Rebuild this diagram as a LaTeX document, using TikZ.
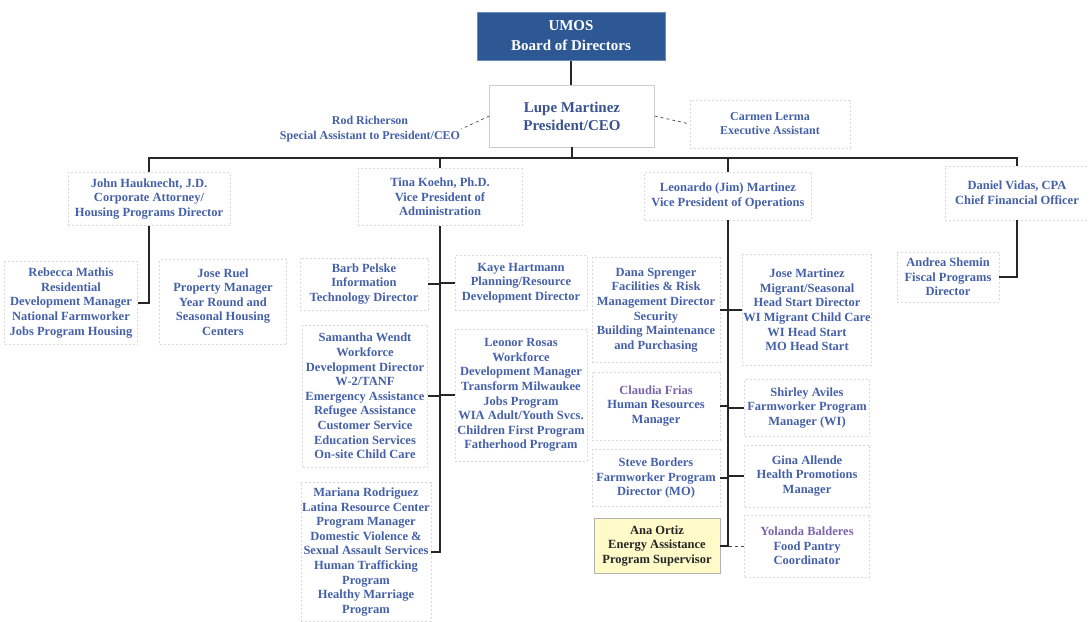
\documentclass[tikz,border=0pt]{standalone}
\usepackage{fontspec}
\setmainfont{Liberation Serif}
\usepackage{xcolor}
\usepackage{tikz}
\usetikzlibrary{positioning,calc}

\definecolor{umosblue}{RGB}{68,96,168}
\definecolor{boardblue}{RGB}{46,88,148}
\definecolor{boardedge}{RGB}{110,140,190}
\definecolor{hrpurple}{RGB}{122,100,170}
\definecolor{anayellow}{RGB}{255,250,200}

\newcommand{\staffsize}{\fontsize{12.5}{14.6}\selectfont\bfseries}

\begin{document}
\begin{tikzpicture}[x=1pt, y=-1pt,
	staff/.style={draw=black!15, dash pattern=on 2pt off 2pt, align=center, text=umosblue, font=\staffsize, inner sep=1pt},
	boxsize/.style 2 args={minimum width=#1pt, minimum height=#2pt},
	link/.style={draw=black!85, line width=1.2pt},
	aide/.style={draw=black!70, line width=0.7pt, dashed}]
		
		\useasboundingbox (0,0) rectangle (1089,621);
		
		\node[boxsize={188}{48}, fill=boardblue, draw=boardedge, line width=1pt, text=white, align=center, font=\fontsize{15}{20}\selectfont\bfseries] (board) at (571,36) {UMOS\\Board of Directors};
		
		\node[staff, solid, draw=black!20, boxsize={165}{62}, font=\fontsize{15}{18}\selectfont\bfseries, text=umosblue!85!black] (lupe) at (572,116) {Lupe Martinez\\President/CEO};
		\node[staff, draw=none, font=\fontsize{12}{15}\selectfont\bfseries] (rod) at (370,129) {Rod Richerson\\Special Assistant to President/CEO};
		\node[staff, boxsize={160}{48}, font=\fontsize{12}{14}\selectfont\bfseries] (carmen) at (770,124) {Carmen Lerma\\Executive Assistant};
		
		\draw[link] (board.south) -- (board.south |- lupe.north);
		\draw[aide] (lupe.west) -- (rod.east);
		\draw[aide] (lupe.east) -- (carmen.west);
		
		
		\node[staff, boxsize={162}{53}] (john) at (149,199) {John Hauknecht, J.D.\\Corporate Attorney/\\Housing Programs Director};
		\node[staff, boxsize={164}{57}] (tina) at (440,197) {Tina Koehn, Ph.D.\\Vice President of\\Administration};
		\node[staff, boxsize={167}{48}] (leo) at (728,196) {Leonardo (Jim) Martinez\\Vice President of Operations};
		\node[staff, boxsize={144}{54}] (daniel) at (1017,193) {Daniel Vidas, CPA\\Chief Financial Officer};
		
		\coordinate (bar) at (572,158);
		\draw[link] (lupe.south) -- (bar);
		\draw[link] (john.north) |- (bar) -| (daniel.north);
		\draw[link] (tina.north) -- (tina.north |- bar);
		\draw[link] (leo.north) -- (leo.north |- bar);
		
		
		\node[staff, boxsize={133}{83}] (rebecca) at (71,303) {Rebecca Mathis\\Residential\\Development Manager\\National Farmworker\\Jobs Program Housing};
		\node[staff, boxsize={127}{85}] (joseruel) at (223,302) {Jose Ruel\\Property Manager\\Year Round and\\Seasonal Housing\\Centers};
		
		\draw[link] (john.south) -- (john.south |- rebecca.east) -- (rebecca.east);
		
		
		\node[staff, boxsize={128}{52}] (barb) at (364,284) {Barb Pelske\\Information\\Technology Director};
		\node[staff, boxsize={132}{55}] (kaye) at (521,283) {Kaye Hartmann\\Planning/Resource\\Development Director};
		\node[staff, boxsize={125}{142}] (samantha) at (365,396) {Samantha Wendt\\Workforce\\Development Director\\W-2/TANF\\Emergency Assistance\\Refugee Assistance\\Customer Service\\Education Services\\On-site Child Care};
		\node[staff, boxsize={132}{132}] (leonor) at (521,395) {Leonor Rosas\\Workforce\\Development Manager\\Transform Milwaukee\\Jobs Program\\WIA Adult/Youth Svcs.\\Children First Program\\Fatherhood Program};
		\node[staff, boxsize={127}{139}] (mariana) at (366,552) {Mariana Rodriguez\\Latina Resource Center\\Program Manager\\Domestic Violence \&\\Sexual Assault Services\\Human Trafficking\\Program\\Healthy Marriage\\Program};
		
		\draw[link] (tina.south) -- (tina.south |- mariana.east) -- (mariana.east);
		\draw[link] (barb.east) -- (barb.east -| tina.south);
		\draw[link] (kaye.west) -- (kaye.west -| tina.south);
		\draw[link] (samantha.east) -- (samantha.east -| tina.south);
		\draw[link] (leonor.west) -- (leonor.west -| tina.south);
		
		
		\node[staff, boxsize={128}{105}] (dana) at (656,310) {Dana Sprenger\\Facilities \& Risk\\Management Director\\Security\\Building Maintenance\\and Purchasing};
		\node[staff, boxsize={125}{111}] (josem) at (807,310) {Jose Martinez\\Migrant/Seasonal\\Head Start Director\\WI Migrant Child Care\\WI Head Start\\MO Head Start};
		\node[staff, boxsize={128}{68}] (claudia) at (656,406) {{\color{hrpurple}Claudia Frias}\\Human Resources\\Manager};
		\node[staff, boxsize={125}{57}] (shirley) at (807,408) {Shirley Aviles\\Farmworker Program\\Manager (WI)};
		\node[staff, boxsize={128}{57}] (steve) at (656,478) {Steve Borders\\Farmworker Program\\Director (MO)};
		\node[staff, boxsize={125}{62}] (gina) at (807,476) {Gina Allende\\Health Promotions\\Manager};
		\node[staff, solid, draw=black!30, fill=anayellow, text=black!85, boxsize={126}{55}] (ana) at (657,546) {Ana Ortiz\\Energy Assistance\\Program Supervisor};
		\node[staff, boxsize={125}{62}] (yolanda) at (807,546) {{\color{hrpurple}Yolanda Balderes}\\Food Pantry\\Coordinator};
		
		\draw[link] (leo.south) -- (leo.south |- ana.east) -- (ana.east);
		\draw[link] (dana.east) -- (dana.east -| leo.south);
		\draw[link] (josem.west) -- (josem.west -| leo.south);
		\draw[link] (claudia.east) -- (claudia.east -| leo.south);
		\draw[link] (shirley.west) -- (shirley.west -| leo.south);
		\draw[link] (steve.east) -- (steve.east -| leo.south);
		\draw[link] (gina.west) -- (gina.west -| leo.south);
		\draw[aide] (yolanda.west) -- (yolanda.west -| leo.south);
		
		
		\node[staff, boxsize={102}{50}] (andrea) at (948,277) {Andrea Shemin\\Fiscal Programs\\Director};
		
		\draw[link] (daniel.south) -- (daniel.south |- andrea.east) -- (andrea.east);
		
\end{tikzpicture}
\end{document}
